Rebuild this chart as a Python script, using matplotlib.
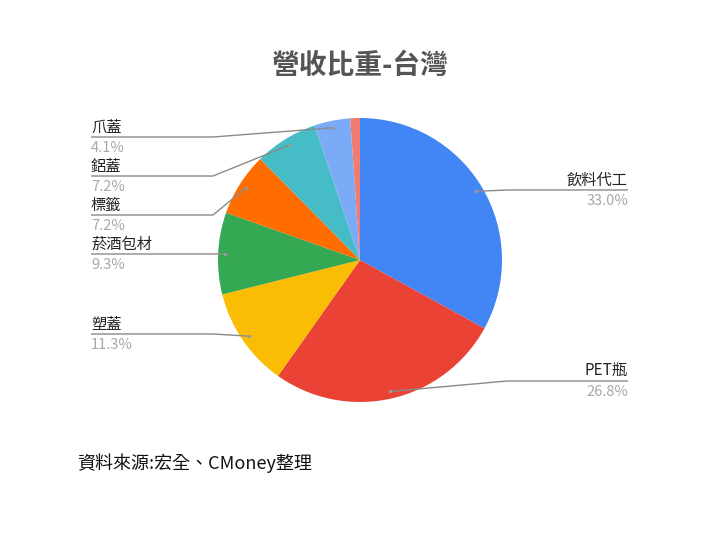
import matplotlib.pyplot as plt
import numpy as np

plt.rcParams['font.family'] = ['Noto Sans CJK TC', 'DejaVu Sans']

# 資料
categories = ['飲料代工', 'PET瓶', '塑蓋', '菸酒包材', '標籤', '鋁蓋', '爪蓋', '其他']
shares = [33.0, 26.8, 11.3, 9.3, 7.2, 7.2, 4.1, 1.1]
show_label = [True, True, True, True, True, True, True, False]
colors = ['#4285F4', '#EA4335', '#FBBC04', '#34A853', '#FF6D01',
          '#46BDC6', '#7BAAF7', '#F07B72']

# 版面 (像素, 由上往下)
W, H = 720, 540
cx, cy, r = 360, 260, 142
label_line_y = [190, 381, 334, 254, 215, 176, 137, None]
left_x, right_x = 91, 628
elbow_left, elbow_right = 213, 507


def Y(y):
    return H - y


fig = plt.figure(figsize=(7.2, 5.4), dpi=100)
ax = fig.add_axes([0, 0, 1, 1])

wedges, _ = ax.pie(shares, colors=colors, startangle=90, counterclock=False,
                   center=(cx, Y(cy)), radius=r, frame=True,
                   wedgeprops=dict(linewidth=0))
ax.set_xlim(0, W)
ax.set_ylim(0, H)
ax.set_aspect('equal')
ax.axis('off')

for w, name, val, ok, ly in zip(wedges, categories, shares, show_label, label_line_y):
    if not ok:
        continue
    mid = np.deg2rad((w.theta1 + w.theta2) / 2)
    dx = cx + 0.95 * r * np.cos(mid)
    dy = Y(cy) + 0.95 * r * np.sin(mid)
    right = dx > cx
    if right:
        xs = [dx, elbow_right, right_x]
        ys = [dy, Y(ly), Y(ly)]
        tx, ha = right_x, 'right'
    else:
        xs = [left_x, elbow_left, dx]
        ys = [Y(ly), Y(ly), dy]
        tx, ha = left_x, 'left'
        if dx < elbow_left:
            xs, ys = [left_x, dx], [Y(ly), dy]
    ax.plot(xs, ys, color='#8a8a8a', lw=1.0, solid_capstyle='butt')
    ax.plot(dx, dy, 'o', ms=2.5, color='#9a9a9a', mec='none')
    ax.text(tx, Y(ly - 10), name, ha=ha, va='center', fontsize=11, color='#222222')
    ax.text(tx, Y(ly + 11), f'{val:.1f}%', ha=ha, va='center', fontsize=10.5,
            color='#a8a8a8')

ax.text(360, Y(66), '營收比重-台灣', ha='center', va='center', fontsize=20,
        fontweight='bold', color='#555555')
ax.text(77, Y(463), '資料來源:宏全、CMoney整理', ha='left', va='center',
        fontsize=13, color='#111111')

fig.savefig('out.png', dpi=100, facecolor='white')
